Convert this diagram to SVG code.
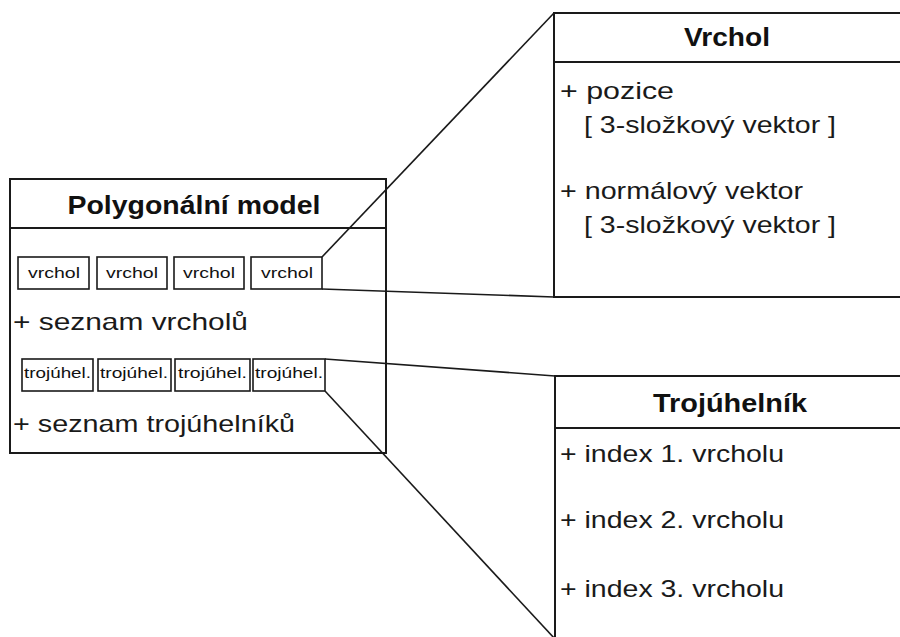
<svg xmlns="http://www.w3.org/2000/svg" width="900" height="637" viewBox="0 0 900 637">
  <style>
    .box { fill: #fff; stroke: #1a1a1a; stroke-width: 2; }
    .sep { stroke: #1a1a1a; stroke-width: 2; }
    .cell { fill: #fff; stroke: #1a1a1a; stroke-width: 1.6; }
    .link { stroke: #1a1a1a; stroke-width: 1.6; fill: none; }
    .title { font-family: "Liberation Sans", Arial, sans-serif; font-size: 25px; font-weight: bold; fill: #111; text-anchor: middle; }
    .attr { font-family: "Liberation Sans", Arial, sans-serif; font-size: 24px; fill: #1a1a1a; }
    .cellv { font-family: "Liberation Sans", Arial, sans-serif; font-size: 14px; fill: #111; text-anchor: middle; }
    .cellt { font-family: "Liberation Sans", Arial, sans-serif; font-size: 15px; fill: #111; }
  </style>
  <rect width="900" height="637" fill="#fff"/>

  <!-- class: polygon model -->
  <g id="polygonalni-model">
    <rect class="box" x="10" y="179" width="376" height="274"/>
    <line class="sep" x1="10" y1="228" x2="386" y2="228"/>
    <text class="title" x="194" y="214" textLength="253" lengthAdjust="spacingAndGlyphs">Polygonální model</text>

    <g id="seznam-vrcholu">
      <rect class="cell" x="18" y="257" width="71" height="32"/>
      <rect class="cell" x="97" y="257" width="70" height="32"/>
      <rect class="cell" x="174" y="257" width="70" height="32"/>
      <rect class="cell" x="251" y="257" width="71" height="32"/>
      <text class="cellv" x="54" y="278" textLength="52" lengthAdjust="spacingAndGlyphs">vrchol</text>
      <text class="cellv" x="132" y="278" textLength="52" lengthAdjust="spacingAndGlyphs">vrchol</text>
      <text class="cellv" x="209" y="278" textLength="52" lengthAdjust="spacingAndGlyphs">vrchol</text>
      <text class="cellv" x="287" y="278" textLength="52" lengthAdjust="spacingAndGlyphs">vrchol</text>
    </g>
    <text class="attr" x="13" y="330" textLength="235" lengthAdjust="spacingAndGlyphs">+ seznam vrcholů</text>

    <g id="seznam-trojuhelniku">
      <rect class="cell" x="22" y="359" width="71" height="32"/>
      <rect class="cell" x="98" y="359" width="73" height="32"/>
      <rect class="cell" x="175" y="359" width="75" height="32"/>
      <rect class="cell" x="253" y="359" width="72" height="32"/>
      <text class="cellt" x="24" y="378" textLength="67" lengthAdjust="spacingAndGlyphs">trojúhel.</text>
      <text class="cellt" x="100" y="378" textLength="68" lengthAdjust="spacingAndGlyphs">trojúhel.</text>
      <text class="cellt" x="178" y="378" textLength="69" lengthAdjust="spacingAndGlyphs">trojúhel.</text>
      <text class="cellt" x="255" y="378" textLength="68" lengthAdjust="spacingAndGlyphs">trojúhel.</text>
    </g>
    <text class="attr" x="13" y="432" textLength="282" lengthAdjust="spacingAndGlyphs">+ seznam trojúhelníků</text>
  </g>

  <!-- class: vertex -->
  <g id="vrchol">
    <rect class="box" x="554" y="13" width="360" height="284"/>
    <line class="sep" x1="554" y1="62" x2="902" y2="62"/>
    <text class="title" x="727" y="46" textLength="86" lengthAdjust="spacingAndGlyphs">Vrchol</text>
    <text class="attr" x="560" y="99" textLength="114" lengthAdjust="spacingAndGlyphs">+ pozice</text>
    <text class="attr" x="584" y="133" textLength="252" lengthAdjust="spacingAndGlyphs">[ 3-složkový vektor ]</text>
    <text class="attr" x="560" y="199" textLength="243" lengthAdjust="spacingAndGlyphs">+ normálový vektor</text>
    <text class="attr" x="584" y="233" textLength="252" lengthAdjust="spacingAndGlyphs">[ 3-složkový vektor ]</text>
  </g>

  <!-- class: triangle -->
  <g id="trojuhelnik">
    <rect class="box" x="555" y="376" width="360" height="280"/>
    <line class="sep" x1="555" y1="428" x2="902" y2="428"/>
    <text class="title" x="730" y="412" textLength="154" lengthAdjust="spacingAndGlyphs">Trojúhelník</text>
    <text class="attr" x="560" y="462" textLength="224" lengthAdjust="spacingAndGlyphs">+ index 1. vrcholu</text>
    <text class="attr" x="560" y="528" textLength="224" lengthAdjust="spacingAndGlyphs">+ index 2. vrcholu</text>
    <text class="attr" x="560" y="597" textLength="224" lengthAdjust="spacingAndGlyphs">+ index 3. vrcholu</text>
  </g>

  <!-- zoom lines from list items to their class boxes -->
  <g id="connectors">
    <line class="link" x1="322" y1="257" x2="554" y2="13"/>
    <line class="link" x1="322" y1="289" x2="554" y2="297"/>
    <line class="link" x1="325" y1="359" x2="555" y2="376"/>
    <line class="link" x1="325" y1="391" x2="555" y2="639"/>
  </g>
</svg>
